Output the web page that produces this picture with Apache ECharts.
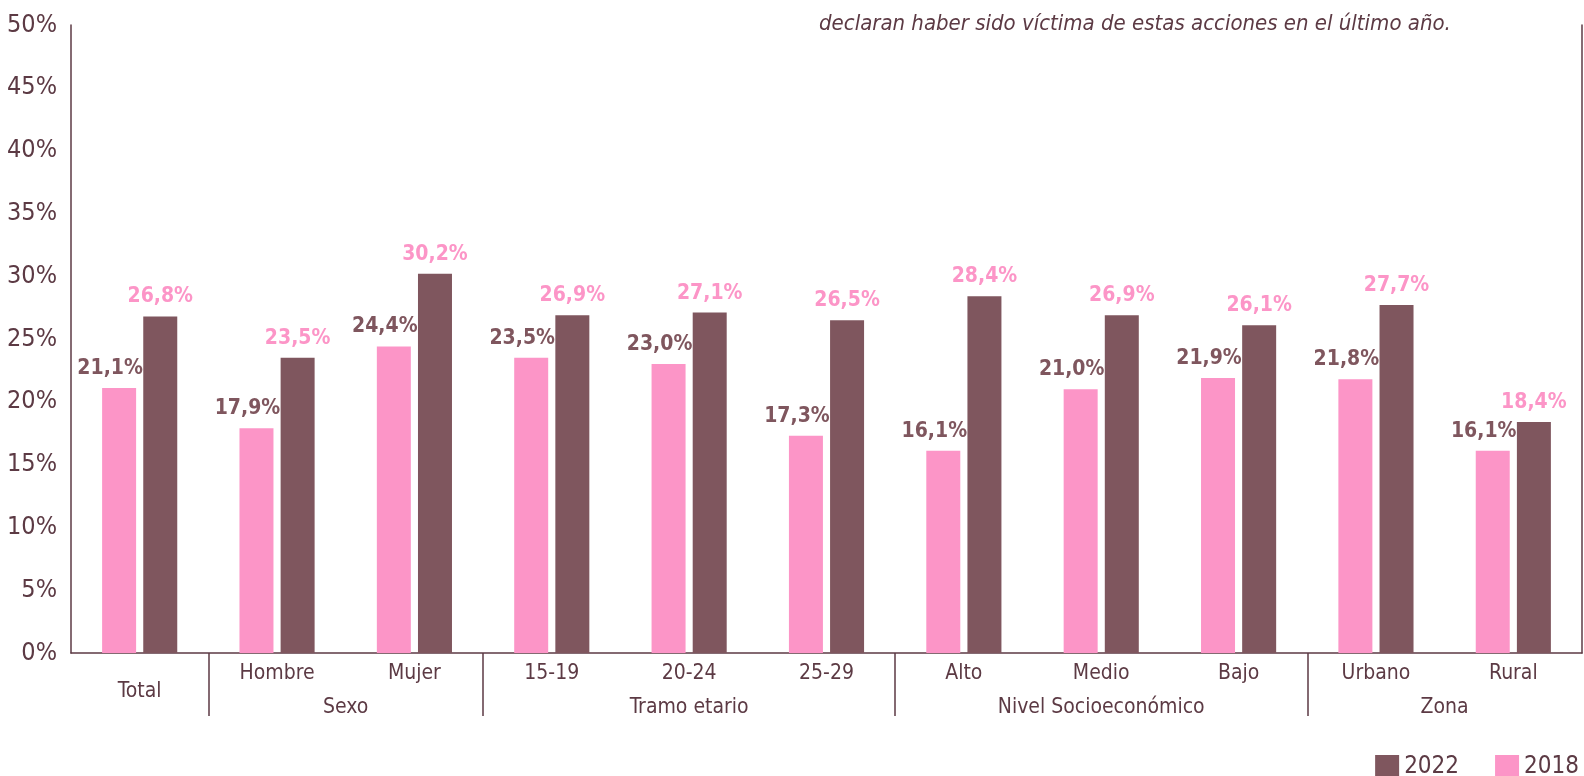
<!DOCTYPE html>
<html>
<head>
<meta charset="utf-8">
<script src="https://cdn.jsdelivr.net/npm/echarts@6/dist/echarts.min.js"></script>
<style>
html, body { margin: 0; padding: 0; background: #fff; }
#chart { width: 1584px; height: 776px; }
</style>
</head>
<body>
<div id="chart"></div>
<script>
// categorias y grupos
var categorias = ['Total', 'Hombre', 'Mujer', '15-19', '20-24', '25-29', 'Alto', 'Medio', 'Bajo', 'Urbano', 'Rural'];
var grupos = ['Sexo', 'Tramo etario', 'Nivel Socioeconómico', 'Zona'];
var grupoCentros = [2, 4.5, 7.5, 10];
var grupoLimites = [1, 3, 6, 9];
// datos (%)
var datos2018 = [21.1, 17.9, 24.4, 23.5, 23.0, 17.3, 16.1, 21.0, 21.9, 21.8, 16.1];
var datos2022 = [26.8, 23.5, 30.2, 26.9, 27.1, 26.5, 28.4, 26.9, 26.1, 27.7, 18.4];
var yTicks = [0, 5, 10, 15, 20, 25, 30, 35, 40, 45, 50];

var fuente = "'DejaVu Sans Condensed', 'Liberation Sans Narrow', sans-serif";
var oscuro = '#7f565e';
var rosa = '#fc95c7';
var texto = '#5c3a44';

function pct(v) {
	return v.toFixed(1).replace('.', ',') + '%';
}

var chart = echarts.init(document.getElementById('chart'));
var option = {
	animation : false,
	textStyle : { fontFamily : fuente },
	grid : { left : 71, right : 2, top : 25, bottom : 123 },
	legend : {
		right : 0,
		top : 750,
		itemWidth : 24,
		itemHeight : 24,
		itemGap : 36,
		icon : 'rect',
		data : [ '2022', '2018' ],
		textStyle : { fontFamily : fuente, fontSize : 24, color : texto }
	},
	graphic : [ {
		type : 'text',
		left : 819,
		top : 13,
		style : {
			text : 'declaran haber sido víctima de estas acciones en el último año.',
			font : 'italic 22px ' + fuente,
			fill : texto
		}
	} ],
	xAxis : [ {
		type : 'category',
		data : categorias,
		axisLine : { lineStyle : { color : texto, width : 1.5 } },
		axisTick : { show : false },
		axisLabel : {
			margin : 10,
			fontSize : 21,
			color : texto,
			fontFamily : fuente,
			formatter : function(v) {
				return v === 'Total' ? '{t|' + v + '}' : v;
			},
			rich : { t : { fontSize : 21, color : texto, fontFamily : fuente, padding : [ 18, 0, 0, 0 ] } }
		}
	}, {
		type : 'value',
		min : 0,
		max : 11,
		position : 'bottom',
		axisLine : { show : false },
		splitLine : { show : false },
		axisTick : {
			show : true,
			customValues : grupoLimites,
			length : 63,
			lineStyle : { color : texto, width : 1.5 }
		},
		axisLabel : {
			margin : 44,
			fontSize : 21,
			color : texto,
			fontFamily : fuente,
			customValues : grupoCentros,
			formatter : function(v) {
				return grupos[grupoCentros.indexOf(v)] || '';
			}
		}
	} ],
	yAxis : [ {
		type : 'value',
		min : 0,
		max : 50,
		interval : 5,
		axisLine : { show : true, lineStyle : { color : texto, width : 1.5 } },
		axisTick : { show : false },
		splitLine : { show : false },
		axisLabel : {
			margin : 14,
			fontSize : 25,
			color : texto,
			fontFamily : fuente,
			formatter : function(v) {
				return yTicks.indexOf(v) >= 0 ? v + '%' : '';
			}
		}
	}, {
		type : 'value',
		min : 0,
		max : 50,
		position : 'right',
		axisLine : { show : true, lineStyle : { color : texto, width : 1.5 } },
		axisTick : { show : false },
		axisLabel : { show : false },
		splitLine : { show : false }
	} ],
	series : [ {
		name : '2018',
		type : 'bar',
		data : datos2018,
		barWidth : 34,
		barGap : '21%',
		itemStyle : { color : rosa },
		label : {
			show : true,
			position : 'top',
			distance : 9,
			offset : [ -9, 0 ],
			color : oscuro,
			fontWeight : 'bold',
			fontSize : 21,
			fontFamily : fuente,
			formatter : function(p) { return pct(p.value); }
		}
	}, {
		name : '2022',
		type : 'bar',
		data : datos2022,
		barWidth : 34,
		barGap : '21%',
		itemStyle : { color : oscuro },
		label : {
			show : true,
			position : 'top',
			distance : 9,
			color : rosa,
			fontWeight : 'bold',
			fontSize : 21,
			fontFamily : fuente,
			formatter : function(p) { return pct(p.value); }
		}
	} ]
};
chart.setOption(option);
</script>
</body>
</html>
